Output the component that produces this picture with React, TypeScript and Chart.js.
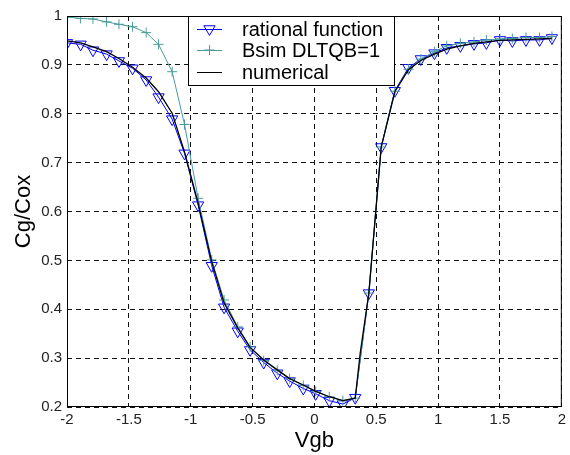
import React, { useEffect, useRef } from "react";
import { Chart, registerables } from "chart.js";

Chart.register(...registerables);

// Gate voltage samples (V)
const vgb = [
  -2.0, -1.89, -1.79, -1.68, -1.58, -1.47, -1.36, -1.26, -1.15, -1.05,
  -0.94, -0.83, -0.73, -0.62, -0.52, -0.41, -0.3, -0.2, -0.09, 0.01,
  0.12, 0.23, 0.33, 0.44, 0.54, 0.65, 0.76, 0.86, 0.97, 1.07,
  1.18, 1.29, 1.39, 1.5, 1.6, 1.71, 1.82, 1.92,
];

// rational function (blue, down triangles)
const rational = [
  0.945, 0.942, 0.93, 0.922, 0.908, 0.893, 0.869, 0.834, 0.789, 0.719,
  0.613, 0.489, 0.404, 0.355, 0.317, 0.291, 0.269, 0.253, 0.238, 0.227,
  0.213, 0.206, 0.219, 0.433, 0.732, 0.847, 0.894, 0.912, 0.924, 0.935,
  0.939, 0.943, 0.945, 0.951, 0.949, 0.951, 0.951, 0.955,
];

// Bsim DLTQB=1 (teal, plus markers)
const bsim = [
  0.998, 0.995, 0.994, 0.988, 0.983, 0.978, 0.966, 0.942, 0.886, 0.778,
  0.627, 0.501, 0.419, 0.364, 0.323, 0.295, 0.275, 0.258, 0.244, 0.232,
  0.221, 0.213, 0.218, 0.433, 0.732, 0.846, 0.891, 0.912, 0.927, 0.939,
  0.944, 0.947, 0.951, 0.953, 0.954, 0.956, 0.956, 0.958,
];

// numerical (black line)
const numVgb = [
  -2.0, -1.89, -1.79, -1.68, -1.58, -1.47, -1.36, -1.26, -1.15, -1.05,
  -0.94, -0.83, -0.73, -0.62, -0.52, -0.41, -0.3, -0.2, -0.09, 0.01,
  0.12, 0.23, 0.33, 0.37, 0.44, 0.54, 0.65, 0.76, 0.86, 0.97,
  1.07, 1.18, 1.29, 1.39, 1.5, 1.6, 1.71, 1.82, 1.92,
];
const numerical = [
  0.949, 0.945, 0.937, 0.927, 0.913, 0.895, 0.873, 0.845, 0.801, 0.722,
  0.617, 0.497, 0.413, 0.362, 0.322, 0.296, 0.276, 0.258, 0.245, 0.232,
  0.221, 0.213, 0.218, 0.31, 0.433, 0.732, 0.845, 0.89, 0.909, 0.922,
  0.932, 0.939, 0.944, 0.947, 0.95, 0.951, 0.952, 0.953, 0.954,
];

const xTicks = [-2, -1.5, -1, -0.5, 0, 0.5, 1, 1.5, 2];
const xTickLabels = ["-2", "-1.5", "-1", "-0.5", "0", "0.5", "1", "1.5", "2"];
const yTicks = [0.2, 0.3, 0.4, 0.5, 0.6, 0.7, 0.8, 0.9, 1];
const yTickLabels = ["0.2", "0.3", "0.4", "0.5", "0.6", "0.7", "0.8", "0.9", "1"];

const legendLabels = ["rational function", "Bsim DLTQB=1", "numerical"];

const BLUE = "#0000ff";
const TEAL = "#4a9c9c";
const BLACK = "#000000";
const FONT = "Arial, 'Liberation Sans', Helvetica, sans-serif";

function drawTriDown(ctx: CanvasRenderingContext2D, x: number, y: number, r: number) {
  ctx.beginPath();
  ctx.moveTo(x - r * 0.866, y - r * 0.5);
  ctx.lineTo(x + r * 0.866, y - r * 0.5);
  ctx.lineTo(x, y + r);
  ctx.closePath();
  ctx.stroke();
}

function drawPlus(ctx: CanvasRenderingContext2D, x: number, y: number, r: number) {
  ctx.beginPath();
  ctx.moveTo(x - r, y);
  ctx.lineTo(x + r, y);
  ctx.moveTo(x, y - r);
  ctx.lineTo(x, y + r);
  ctx.stroke();
}

const boxPlugin = {
  id: "boxAndLegend",
  afterDatasetsDraw(chart: any) {
    const { ctx, chartArea: a } = chart;
    ctx.save();
    ctx.strokeStyle = "#000";
    ctx.lineWidth = 1;
    ctx.setLineDash([]);
    ctx.strokeRect(a.left + 0.5, a.top + 0.5, a.right - a.left - 1, a.bottom - a.top - 1);
    ctx.restore();
  },
  afterDraw(chart: any) {
    const { ctx, chartArea: a } = chart;
    const left = a.left + 121;
    const top = a.top;
    const w = 207;
    const h = 70;
    ctx.save();
    ctx.fillStyle = "#fff";
    ctx.fillRect(left, top, w, h);
    ctx.strokeStyle = "#000";
    ctx.lineWidth = 1;
    ctx.strokeRect(left + 0.5, top + 0.5, w - 1, h - 1);
    const rows = [top + 13, top + 34, top + 56];
    const colors = [BLUE, TEAL, BLACK];
    ctx.font = `20px ${FONT}`;
    ctx.textBaseline = "middle";
    ctx.textAlign = "left";
    rows.forEach((yy, i) => {
      ctx.strokeStyle = colors[i];
      ctx.lineWidth = 1;
      ctx.beginPath();
      ctx.moveTo(left + 9, yy + 0.5);
      ctx.lineTo(left + 34, yy + 0.5);
      ctx.stroke();
      if (i === 0) drawTriDown(ctx, left + 21.5, yy, 6.5);
      if (i === 1) drawPlus(ctx, left + 21.5, yy, 5);
      ctx.fillStyle = "#000";
      ctx.fillText(legendLabels[i], left + 54, yy + 1);
    });
    ctx.restore();
  },
};

export default function App() {
  const ref = useRef<HTMLCanvasElement | null>(null);

  useEffect(() => {
    document.body.style.margin = "0";
    const canvas = ref.current;
    if (!canvas) return;
    const chart = new Chart(canvas, {
      type: "line",
      data: {
        datasets: [
          {
            label: legendLabels[0],
            data: vgb.map((x, i) => ({ x, y: rational[i] })),
            borderColor: BLUE,
            borderWidth: 1,
            pointStyle: "triangle",
            pointRotation: 180,
            pointRadius: 6.5,
            pointBorderWidth: 1,
            pointBorderColor: BLUE,
            pointBackgroundColor: "rgba(0,0,0,0)",
            fill: false,
            tension: 0,
            order: 2,
          },
          {
            label: legendLabels[1],
            data: vgb.map((x, i) => ({ x, y: bsim[i] })),
            borderColor: TEAL,
            borderWidth: 1,
            pointStyle: "cross",
            pointRadius: 5,
            pointBorderWidth: 1,
            pointBorderColor: TEAL,
            pointBackgroundColor: TEAL,
            fill: false,
            tension: 0,
            order: 1,
          },
          {
            label: legendLabels[2],
            data: numVgb.map((x, i) => ({ x, y: numerical[i] })),
            borderColor: BLACK,
            borderWidth: 1.3,
            pointRadius: 0,
            fill: false,
            tension: 0,
            order: 0,
          },
        ],
      },
      options: {
        animation: false,
        responsive: false,
        maintainAspectRatio: false,
        events: [],
        layout: { padding: { left: 0, top: 16, right: 4, bottom: 0 } },
        plugins: {
          legend: { display: false },
          tooltip: { enabled: false },
          title: { display: false },
        },
        scales: {
          x: {
            type: "linear",
            min: -2,
            max: 2,
            afterBuildTicks: (s: any) => {
              s.ticks = xTicks.map((v) => ({ value: v }));
            },
            afterFit: (s: any) => {
              s.height = 48;
            },
            ticks: {
              callback: (_v: any, i: number) => xTickLabels[i],
              font: { family: FONT, size: 15 },
              color: "#222",
              padding: 4,
              maxRotation: 0,
              autoSkip: false,
            },
            grid: {
              color: "#111",
              lineWidth: 1,
              drawTicks: false,
            },
            border: { display: false, dash: [5, 4] },
            title: {
              display: true,
              text: "Vgb",
              font: { family: FONT, size: 22 },
              color: "#000",
              padding: { top: 0, bottom: 1 },
            },
          },
          y: {
            type: "linear",
            min: 0.2,
            max: 1,
            afterBuildTicks: (s: any) => {
              s.ticks = yTicks.map((v) => ({ value: v }));
            },
            afterFit: (s: any) => {
              s.width = 67;
            },
            ticks: {
              callback: (_v: any, i: number) => yTickLabels[i],
              font: { family: FONT, size: 15 },
              color: "#222",
              padding: 5,
              autoSkip: false,
            },
            grid: {
              color: "#111",
              lineWidth: 1,
              drawTicks: false,
            },
            border: { display: false, dash: [5, 4] },
            title: {
              display: true,
              text: "Cg/Cox",
              font: { family: FONT, size: 22 },
              color: "#000",
              padding: { top: 11, bottom: 0 },
            },
          },
        },
      },
      plugins: [boxPlugin],
    });
    return () => chart.destroy();
  }, []);

  return (
    <div style={{ position: "fixed", left: 0, top: 0, width: 570, height: 455, background: "#fff" }}>
      <canvas ref={ref} width={570} height={455} style={{ display: "block" }} />
    </div>
  );
}
